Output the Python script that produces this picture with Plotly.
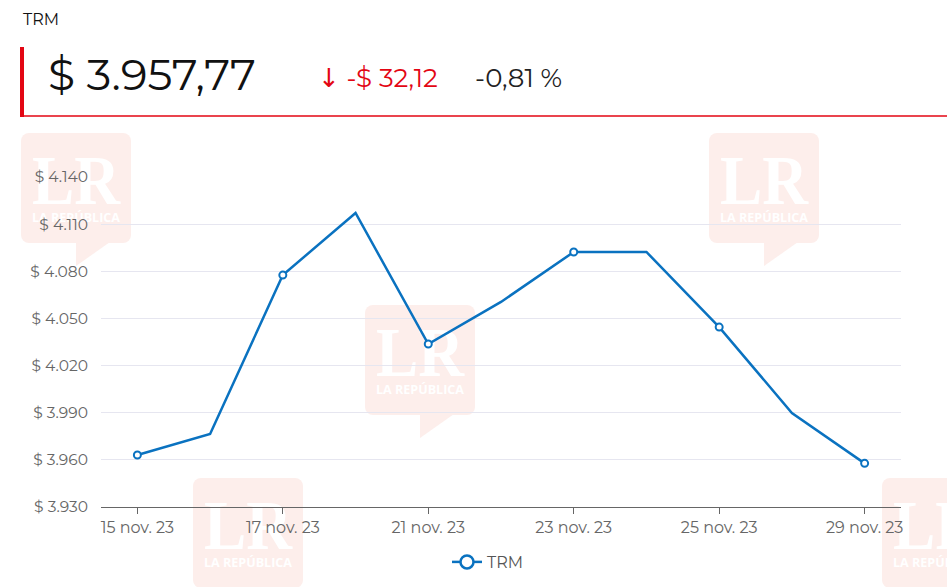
import base64
import plotly.graph_objects as go

# ---------------- data ----------------
dates = ["15 nov. 23", "16 nov. 23", "17 nov. 23", "20 nov. 23", "21 nov. 23",
         "22 nov. 23", "23 nov. 23", "24 nov. 23", "25 nov. 23", "28 nov. 23",
         "29 nov. 23"]
trm = [3963.1, 3976.5, 4077.6, 4117.1, 4033.7, 4060.5, 4092.3, 4092.3,
       4044.5, 3989.8, 3957.77]
tick_dates = ["15 nov. 23", "17 nov. 23", "21 nov. 23", "23 nov. 23",
              "25 nov. 23", "29 nov. 23"]
y_ticks = [3930, 3960, 3990, 4020, 4050, 4080, 4110, 4140]
series_name = "TRM"
header_title = "TRM"
header_value = "$ 3.957,77"
header_change = "-$ 32,12"
header_pct = "-0,81 %"

# ---------------- geometry (page pixels) ----------------
W, H = 947, 587
L, R, T, B = 101, 901, 177, 507
BLUE = "#0a72c0"
RED = "#e30613"
FONT = "Montserrat, 'Open Sans', sans-serif"


def px(x):
    return (x - L) / (R - L)


def py(y):
    return (B - y) / (B - T)


y_text = ["$ " + f"{v:,}".replace(",", ".") for v in y_ticks]

fig = go.Figure()

fig.add_trace(go.Scatter(x=dates, y=trm, mode="lines", showlegend=False,
                         line=dict(color=BLUE, width=2.5), hoverinfo="skip"))
fig.add_trace(go.Scatter(x=dates[::2], y=trm[::2], mode="markers", showlegend=False,
                         marker=dict(symbol="circle", size=7, color="white",
                                     line=dict(color=BLUE, width=2))))
fig.add_trace(go.Scatter(x=[None], y=[None], mode="lines+markers", name=series_name,
                         line=dict(color=BLUE, width=2.5),
                         marker=dict(symbol="circle", size=13, color="white",
                                     line=dict(color=BLUE, width=2.5))))

# watermark svg
WM = "#fdeeeb"
svg = ('<svg xmlns="http://www.w3.org/2000/svg" width="110" height="135" viewBox="0 0 110 135">'
       f'<rect x="0" y="0" width="110" height="110" rx="8" fill="{WM}"/>'
       f'<polygon points="55,109 89,109 55,133" fill="{WM}"/>'
       '<text x="11" y="71" font-family="Liberation Serif" font-weight="bold" font-size="70" '
       'fill="white" textLength="88" lengthAdjust="spacingAndGlyphs">LR</text>'
       '<text x="11" y="89" font-family="Open Sans" font-weight="bold" font-size="12.5" '
       'fill="white" textLength="88" lengthAdjust="spacingAndGlyphs">LA REPÚBLICA</text>'
       '</svg>')
src = "data:image/svg+xml;base64," + base64.b64encode(svg.encode("utf-8")).decode()
images = []
for (wx, wy) in [(21, 133), (709, 133), (365, 305), (193, 478), (882, 478)]:
    images.append(dict(source=src, xref="paper", yref="paper", x=px(wx), y=py(wy),
                       sizex=110 / (R - L), sizey=135 / (B - T), xanchor="left",
                       yanchor="top", sizing="stretch", layer="below"))

annotations = [
    dict(text=header_title, x=px(21), y=py(20), font=dict(size=16, color="#111")),
    dict(text=header_value, x=px(46), y=py(74), font=dict(size=44, color="#111")),
    dict(text="<span style='font-family:DejaVu Sans'>↓</span> " + header_change,
         x=px(316), y=py(78), font=dict(size=26, color=RED)),
    dict(text=header_pct, x=px(473), y=py(78), font=dict(size=26, color="#222")),
]
for a in annotations:
    a.update(xref="paper", yref="paper", xanchor="left", yanchor="middle",
             showarrow=False)

shapes = [
    dict(type="rect", xref="paper", yref="paper", x0=px(20), x1=px(24), y0=py(47),
         y1=py(117), fillcolor=RED, line=dict(width=0)),
    dict(type="line", xref="paper", yref="paper", x0=px(22), x1=px(950), y0=py(116),
         y1=py(116), line=dict(color=RED, width=1.5)),
]

fig.update_layout(
    width=W, height=H, autosize=False,
    margin=dict(l=L, r=W - R, t=T, b=H - B, pad=0, autoexpand=False),
    paper_bgcolor="white", plot_bgcolor="rgba(0,0,0,0)",
    font=dict(family=FONT, color="#666"),
    images=images, annotations=annotations, shapes=shapes,
    showlegend=True,
    legend=dict(orientation="h", xref="container", yref="container",
                x=488 / W, xanchor="center", y=(H - 562) / H, yanchor="middle",
                font=dict(size=16, color="#555"), bgcolor="rgba(0,0,0,0)"),
    xaxis=dict(type="category", range=[-0.5, len(dates) - 0.5],
               tickmode="array", tickvals=tick_dates, ticktext=tick_dates,
               ticks="outside", ticklen=6, tickwidth=1, tickcolor="#666",
               showline=True, linecolor="#666", linewidth=1, showgrid=False,
               automargin=False,
               tickfont=dict(size=16, color="#666"), fixedrange=True),
    yaxis=dict(range=[3930, 4140], tickmode="array", tickvals=y_ticks,
               ticktext=y_text, showgrid=True, automargin=False,
               gridcolor="#e6e6f0", gridwidth=1, zeroline=False, showline=False,
               ticks="", ticklabelstandoff=12,
               tickfont=dict(size=15.5, color="#666"), fixedrange=True),
)

fig.write_html("out.html", config={"displayModeBar": False},
               post_script="document.body.style.margin='0';"
                           "document.body.style.overflow='hidden';")
